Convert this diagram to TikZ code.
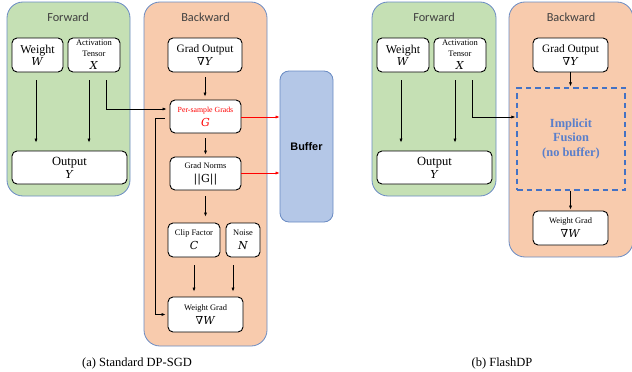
\documentclass[tikz,border=0pt]{standalone}
\usepackage{fontspec}
\setmainfont{Liberation Serif}
\newfontfamily\titlefont{Carlito}
\newfontfamily\boldsans{Liberation Sans}
\newfontfamily\symfont{DejaVu Serif}
\usetikzlibrary{arrows.meta}

\definecolor{fwdfill}{HTML}{C5E0B4}
\definecolor{bwdfill}{HTML}{F8CBAD}
\definecolor{buffill}{HTML}{B4C7E7}
\definecolor{paneledge}{HTML}{6A8BC3}
\definecolor{fuseblue}{HTML}{4472C4}
\definecolor{fusetext}{HTML}{5A7FCB}
\definecolor{titlegray}{HTML}{404040}
\definecolor{gradred}{HTML}{FF0000}

\newcommand{\fs}[1]{\fontsize{#1}{#1}\selectfont}
% symbol line of a value box
\newcommand{\sym}[1]{\symfont\fs{11}#1}
\newcommand{\var}[1]{\textit{#1}}

\tikzset{
  panel/.style={draw=paneledge, line width=0.8pt, rounded corners=16pt, inner sep=0pt},
  fwdpanel/.style={panel, fill=fwdfill},
  bwdpanel/.style={panel, fill=bwdfill},
  title/.style={font=\titlefont\fs{12.3}, text=titlegray},
  valbox/.style={draw=black, fill=white, line width=0.9pt, rounded corners=5pt,
                 inner sep=0pt, align=center},
  arr/.style={-{Latex[length=4pt,width=3.2pt]}, line width=0.7pt, black},
  redarr/.style={-{Latex[length=4pt,width=3.2pt]}, line width=0.7pt, gradred},
  caption/.style={font=\fs{12.5}},
}

\begin{document}
\begin{tikzpicture}[x=1pt, y=-1pt]
\useasboundingbox (0,0) rectangle (632,372);
\begin{scope}
\clip (0,0) rectangle (632,372);

% ---------------- (a) Standard DP-SGD ----------------
\node[fwdpanel, minimum width=123pt, minimum height=194pt] (fwdA) at (68.5,99) {};
\node[bwdpanel, minimum width=123pt, minimum height=344pt] (bwdA) at (205.5,174) {};
\node[title] (fwdAt) at (68,17) {Forward};
\node[title] (bwdAt) at (205.5,17) {Backward};

\node[valbox, minimum width=51pt, minimum height=34pt] (wA) at (37.5,55)
  {\fs{12}Weight\\[0pt] \sym{\var{W}}};
\node[valbox, minimum width=52pt, minimum height=34pt] (xA) at (94,55)
  {\fs{8.5}Activation\\[-1pt] \fs{8.5}Tensor\\[1pt] \sym{\var{X}}};
\node[valbox, minimum width=115pt, minimum height=33pt] (outA) at (69.5,167.5)
  {\fs{12.5}Output\\[1pt] \sym{\var{Y}}};

\node[valbox, minimum width=74pt, minimum height=34pt] (goA) at (205,55)
  {\fs{11.3}Grad Output\\[1pt] \sym{∇\var{Y}}};
\node[valbox, minimum width=71pt, minimum height=33pt] (psA) at (205.5,116.5)
  {\fs{7.8}\textcolor{gradred}{Per-sample Grads}\\[2pt] \sym{\textcolor{gradred}{\var{G}}}};
\node[valbox, minimum width=71pt, minimum height=33pt] (gnA) at (205.5,173.5)
  {\fs{8.4}Grad Norms\\[2pt] \sym{||G||}};
\node[valbox, minimum width=52pt, minimum height=34pt] (cfA) at (194,240)
  {\fs{8.4}Clip Factor\\[2pt] \sym{\var{C}}};
\node[valbox, minimum width=34pt, minimum height=34pt] (nzA) at (243,240)
  {\fs{8.4}Noise\\[2pt] \sym{\var{N}}};
\node[valbox, minimum width=75pt, minimum height=35pt] (wgA) at (205.5,314.5)
  {\fs{8.4}Weight Grad\\[2pt] \sym{∇\var{W}}};

\node[panel, rounded corners=9pt, fill=buffill, minimum width=53pt, minimum height=151pt,
      font=\boldsans\bfseries\fs{10.9}] (bufA) at (306.5,146.5) {Buffer};

\node[caption] (capA) at (137,363) {(a) Standard DP-SGD};

% forward pass
\draw[arr, shorten <=8pt, shorten >=8pt] ([xshift=-1.5pt]wA.south) -- ([xshift=-1.5pt]wA.south |- outA.north);
\draw[arr, shorten <=8pt, shorten >=8pt] ([xshift=-5pt]xA.south) -- ([xshift=-5pt]xA.south |- outA.north);
\draw[arr, shorten <=8pt, shorten >=3pt] ([xshift=12pt]xA.south) |- ([yshift=7.5pt]psA.west);

% backward pass
\draw[arr, shorten <=5pt, shorten >=3pt] (goA.south) -- (goA.south |- psA.north);
\draw[arr, shorten <=5pt, shorten >=2pt] (psA.south) -- (gnA.north);
\draw[arr, shorten <=6pt, shorten >=6pt] (gnA.south) -- (gnA.south |- cfA.north);
\draw[arr, shorten <=8pt, shorten >=5pt] (cfA.south) -- (cfA.south |- wgA.north);
\draw[arr, shorten <=8pt, shorten >=5pt] ([xshift=-10pt]nzA.south) -- ([xshift=-10pt]nzA.south |- wgA.north);
\coordinate (loopA) at (155,314.5);
\draw[arr, shorten >=2pt] ([xshift=-5pt,yshift=-1.5pt]psA.west) -| (loopA) -- (wgA.west);

% stored intermediates
\draw[redarr] ([yshift=-0.5pt]psA.east) -- ([yshift=-0.5pt]psA.east -| bufA.west);
\draw[redarr] ([yshift=0.5pt]gnA.east) -- ([yshift=0.5pt]gnA.east -| bufA.west);

% ---------------- (b) FlashDP ----------------
\node[fwdpanel, minimum width=124pt, minimum height=194pt] (fwdB) at (434,99) {};
\node[bwdpanel, minimum width=124pt, minimum height=255pt] (bwdB) at (571,129.5) {};
\node[title] (fwdBt) at (434,17) {Forward};
\node[title] (bwdBt) at (571,17) {Backward};

\node[valbox, minimum width=52pt, minimum height=34pt] (wB) at (403,55)
  {\fs{12}Weight\\[0pt] \sym{\var{W}}};
\node[valbox, minimum width=52pt, minimum height=34pt] (xB) at (460,55)
  {\fs{8.5}Activation\\[-1pt] \fs{8.5}Tensor\\[1pt] \sym{\var{X}}};
\node[valbox, minimum width=115pt, minimum height=33pt] (outB) at (434.5,167.5)
  {\fs{12.5}Output\\[1pt] \sym{\var{Y}}};

\node[valbox, minimum width=75pt, minimum height=34pt] (goB) at (570.5,55)
  {\fs{11.3}Grad Output\\[1pt] \sym{∇\var{Y}}};
\node[draw=fuseblue, line width=1.4pt, dash pattern=on 5.5pt off 4pt, inner sep=0pt,
      minimum width=108pt, minimum height=102pt, align=center,
      font=\bfseries\fs{12.4}, text=fusetext] (fuseB) at (571,139)
  {Implicit\\[2.5pt] Fusion\\[2.5pt] (no buffer)};
\node[valbox, minimum width=75pt, minimum height=34pt] (wgB) at (570.5,228)
  {\fs{8.4}Weight Grad\\[2pt] \sym{∇\var{W}}};

\node[caption] (capB) at (502,363) {(b) FlashDP};

% forward pass
\draw[arr, shorten <=8pt, shorten >=8pt] ([xshift=-2pt]wB.south) -- ([xshift=-2pt]wB.south |- outB.north);
\draw[arr, shorten <=8pt, shorten >=8pt] ([xshift=-5pt]xB.south) -- ([xshift=-5pt]xB.south |- outB.north);
\draw[arr, shorten <=8pt, shorten >=1pt] ([xshift=12pt]xB.south) |- ([yshift=22pt]fuseB.west);

% backward pass
\draw[arr, shorten >=1pt] (goB.south) -- (goB.south |- fuseB.north);
\draw[arr, shorten >=1pt] (fuseB.south -| wgB.north) -- (wgB.north);
\end{scope}
\end{tikzpicture}
\end{document}
